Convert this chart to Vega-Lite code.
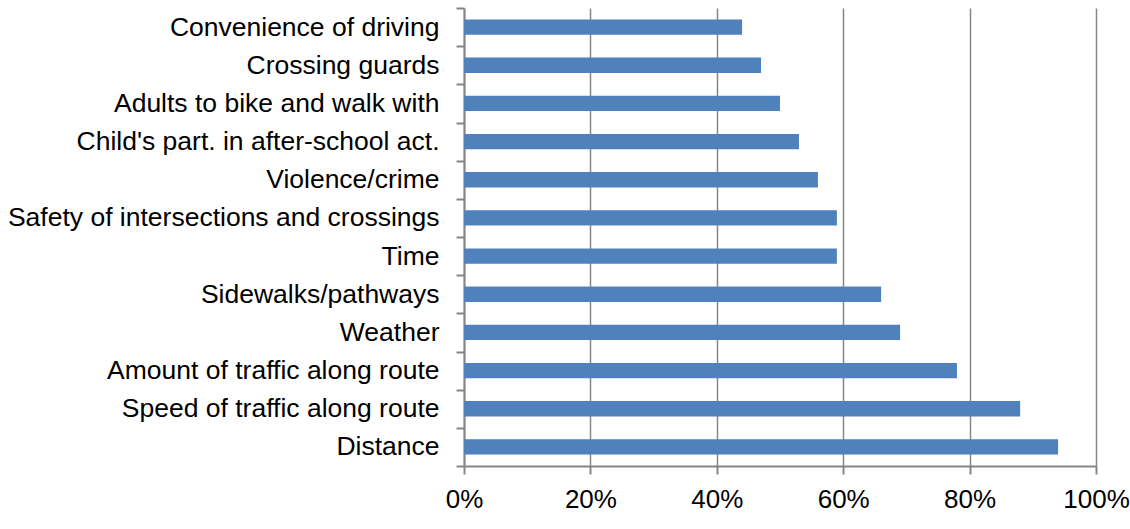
{
  "$schema": "https://vega.github.io/schema/vega-lite/v6.json",
  "width": 632,
  "height": 458,
  "autosize": "none",
  "padding": {"left": 464, "top": 8, "right": 34, "bottom": 63},
  "background": "white",
  "data": {
    "values": [
      {"factor": "Convenience of driving", "share": 0.44},
      {"factor": "Crossing guards", "share": 0.47},
      {"factor": "Adults to bike and walk with", "share": 0.50},
      {"factor": "Child's part. in after-school act.", "share": 0.53},
      {"factor": "Violence/crime", "share": 0.56},
      {"factor": "Safety of intersections and crossings", "share": 0.59},
      {"factor": "Time", "share": 0.59},
      {"factor": "Sidewalks/pathways", "share": 0.66},
      {"factor": "Weather", "share": 0.69},
      {"factor": "Amount of traffic along route", "share": 0.78},
      {"factor": "Speed of traffic along route", "share": 0.88},
      {"factor": "Distance", "share": 0.94}
    ]
  },
  "config": {
    "view": {"stroke": null},
    "font": "Liberation Sans",
    "axis": {
      "labelFont": "Liberation Sans",
      "labelColor": "#000000",
      "domainColor": "#868686",
      "domainWidth": 2,
      "tickColor": "#868686",
      "tickWidth": 2,
      "tickSize": 8,
      "gridColor": "#868686",
      "gridWidth": 1.5,
      "title": null
    }
  },
  "mark": {"type": "bar", "color": "#4F81BD", "height": {"band": 0.4}},
  "encoding": {
    "y": {
      "field": "factor",
      "type": "nominal",
      "sort": null,
      "scale": {"paddingInner": 0, "paddingOuter": 0},
      "axis": {
        "tickBand": "extent",
        "grid": false,
        "labelFontSize": 26.5,
        "labelPadding": 17,
        "labelLimit": 500
      }
    },
    "x": {
      "field": "share",
      "type": "quantitative",
      "scale": {"domain": [0, 1], "nice": false},
      "axis": {
        "format": ".0%",
        "values": [0, 0.2, 0.4, 0.6, 0.8, 1],
        "grid": true,
        "labelFontSize": 26,
        "labelPadding": 12,
        "labelFlush": false
      }
    }
  }
}
